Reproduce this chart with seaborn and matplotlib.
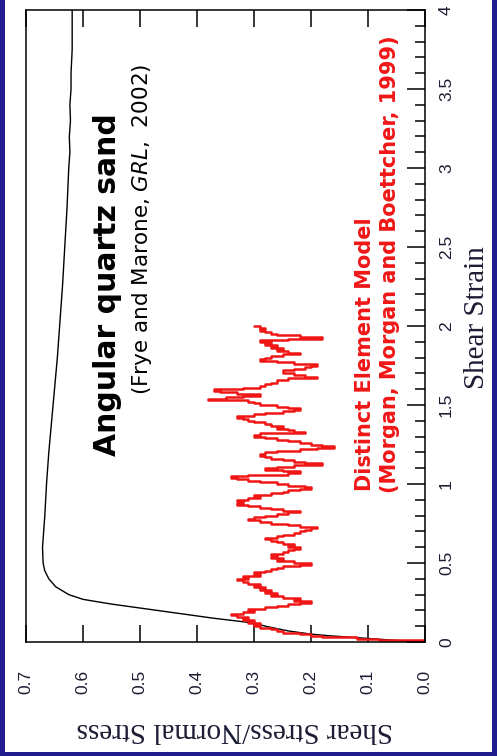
import matplotlib
matplotlib.use("Agg")
import matplotlib.pyplot as plt
from matplotlib.patches import Rectangle
from matplotlib.ticker import MultipleLocator
import numpy as np
import pandas as pd
import seaborn as sns

# Laboratory friction curve for angular quartz sand
sand_strain = [0.00, 0.01, 0.02, 0.03, 0.04, 0.05, 0.07, 0.10, 0.12, 0.15, 0.18,
               0.21, 0.24, 0.27, 0.30, 0.35, 0.40, 0.45, 0.50, 0.60, 0.70, 0.80,
               1.00, 1.20, 1.40, 1.60, 1.80, 2.00, 2.25, 2.50, 2.75, 3.00, 3.10,
               3.20, 3.30, 3.40, 3.50, 3.60, 3.75, 4.00]
sand_stress = [0.000, 0.050, 0.090, 0.130, 0.170, 0.200, 0.240, 0.280, 0.300, 0.370, 0.430,
               0.490, 0.550, 0.600, 0.625, 0.648, 0.660, 0.667, 0.670, 0.671, 0.669, 0.667,
               0.664, 0.660, 0.655, 0.650, 0.645, 0.641, 0.636, 0.632, 0.628, 0.625, 0.623,
               0.624, 0.622, 0.623, 0.621, 0.621, 0.619, 0.619]

# Distinct element model friction record, sampled every 0.01 of strain from 0 to 2
dem_strain = np.linspace(0.0, 2.0, 201)
dem_stress = [
    0.00, 0.08, 0.12, 0.18, 0.20, 0.22, 0.25, 0.26, 0.27, 0.29,
    0.30, 0.29, 0.31, 0.30, 0.32, 0.31, 0.33, 0.34, 0.32, 0.30,
    0.31, 0.28, 0.26, 0.24, 0.22, 0.20, 0.23, 0.22, 0.25, 0.27,
    0.26, 0.28, 0.27, 0.29, 0.28, 0.30, 0.29, 0.31, 0.32, 0.33,
    0.31, 0.32, 0.29, 0.30, 0.28, 0.27, 0.26, 0.25, 0.22, 0.20,
    0.23, 0.26, 0.25, 0.27, 0.26, 0.27, 0.25, 0.24, 0.23, 0.22,
    0.24, 0.23, 0.25, 0.26, 0.27, 0.28, 0.26, 0.25, 0.23, 0.22,
    0.21, 0.20, 0.19, 0.22, 0.24, 0.27, 0.29, 0.31, 0.30, 0.28,
    0.26, 0.24, 0.22, 0.25, 0.27, 0.29, 0.31, 0.33, 0.32, 0.33,
    0.31, 0.29, 0.30, 0.27, 0.25, 0.24, 0.22, 0.20, 0.21, 0.24,
    0.26, 0.29, 0.31, 0.33, 0.34, 0.31, 0.24, 0.22, 0.25, 0.28,
    0.26, 0.23, 0.18, 0.21, 0.23, 0.25, 0.27, 0.28, 0.29, 0.28,
    0.26, 0.22, 0.19, 0.16, 0.18, 0.20, 0.22, 0.24, 0.26, 0.28,
    0.30, 0.29, 0.21, 0.23, 0.24, 0.26, 0.25, 0.27, 0.28, 0.30,
    0.31, 0.32, 0.33, 0.30, 0.28, 0.25, 0.23, 0.22, 0.24, 0.26,
    0.29, 0.30, 0.31, 0.38, 0.35, 0.32, 0.29, 0.33, 0.36, 0.37,
    0.32, 0.29, 0.28, 0.27, 0.26, 0.26, 0.24, 0.19, 0.21, 0.23,
    0.25, 0.25, 0.23, 0.21, 0.20, 0.19, 0.23, 0.26, 0.29, 0.28,
    0.27, 0.25, 0.22, 0.24, 0.26, 0.25, 0.27, 0.26, 0.28, 0.27,
    0.29, 0.24, 0.18, 0.22, 0.26, 0.27, 0.28, 0.29, 0.28, 0.29,
    0.30,
]

stress_ticks = [0.0, 0.1, 0.2, 0.3, 0.4, 0.5, 0.6, 0.7]
strain_ticks = [0, 0.5, 1, 1.5, 2, 2.5, 3, 3.5, 4]
strain_labels = ["0", "0.5", "1", "1.5", "2", "2.5", "3", "3.5", "4"]

RED = "#f01616"
NAVY = "#211d8f"
TICKCOL = "#1c1c34"

sns.set_theme(style="white")
plt.rcParams["font.family"] = ["DejaVu Sans"]
plt.rcParams["axes.edgecolor"] = "black"
plt.rcParams["axes.linewidth"] = 1.1

fig = plt.figure(figsize=(4.97, 7.56), dpi=100)
fig.patch.set_facecolor("white")

# navy frame around the slide
for (x0, y0, w, h) in [(0, 0, 5 / 497, 1), (492 / 497, 0, 5 / 497, 1), (0, 0, 1, 4 / 756)]:
    fig.add_artist(Rectangle((x0, y0), w, h, transform=fig.transFigure,
                             facecolor=NAVY, edgecolor="none", zorder=10))

ax = fig.add_axes([26 / 497, 1 - 642 / 756, (425 - 26) / 497, (642 - 10) / 756])

sand = pd.DataFrame({"strain": sand_strain, "stress": sand_stress})
dem = pd.DataFrame({"strain": dem_strain, "stress": dem_stress})

sns.lineplot(data=sand, x="stress", y="strain", sort=False, estimator=None,
             color="black", lw=1.0, ax=ax)
sns.lineplot(data=dem, x="stress", y="strain", sort=False, estimator=None,
             color=RED, lw=1.8, drawstyle="steps-pre", ax=ax)

ax.set_xlim(0.7, 0.0)
ax.set_ylim(0, 4)
for s in ax.spines.values():
    s.set_visible(True)
    s.set_color("black")

# stress axis (horizontal, reversed), labels turned with the page
ax.set_xticks(stress_ticks)
ax.set_xticklabels([f"{v:.1f}" for v in stress_ticks], rotation=90,
                   fontfamily="Liberation Sans", fontsize=12.5, color=TICKCOL)
ax.tick_params(axis="x", which="major", direction="in", length=12.5, width=1.1,
               top=True, bottom=True, labeltop=False, labelbottom=True,
               pad=20, color="black")

# strain axis on the right
ax.yaxis.tick_right()
ax.set_yticks(strain_ticks)
ax.set_yticklabels(strain_labels, rotation=90, va="center",
                   fontfamily="Liberation Sans", fontsize=12.5, color=TICKCOL)
ax.yaxis.set_minor_locator(MultipleLocator(0.1))
ax.tick_params(axis="y", which="major", direction="in", length=13, width=1.1,
               left=False, right=True, labelleft=False, labelright=True,
               pad=10, color="black")
ax.tick_params(axis="y", which="minor", direction="in", length=7.5, width=1.1,
               left=False, right=True, color="black")

ax.yaxis.set_label_position("right")
ax.set_ylabel("Shear Strain", rotation=90, va="center", ha="center",
              fontfamily="Liberation Serif", fontsize=21, color=TICKCOL)
ax.yaxis.set_label_coords((477 - 26) / 399, (642 - 318) / 632)

ax.set_xlabel("Shear Stress/Normal Stress", rotation=180, va="center", ha="center",
              fontfamily="Liberation Serif", fontsize=21, color=TICKCOL)
ax.xaxis.set_label_coords((235 - 26) / 399, (642 - 730) / 632)

# annotations
ax.text((107 - 26) / 399, (642 - 456) / 632, "Angular quartz sand",
        transform=ax.transAxes, rotation=90, rotation_mode="anchor",
        ha="left", va="center", fontsize=21.5, fontweight="bold", color="black")
ax.text((142 - 26) / 399, (642 - 395) / 632, r"(Frye and Marone, $\it{GRL}$,  2002)",
        transform=ax.transAxes, rotation=90, rotation_mode="anchor",
        ha="left", va="center", fontsize=15.5, color="black")
ax.text((365 - 26) / 399, (642 - 491) / 632, "Distinct Element Model",
        transform=ax.transAxes, rotation=90, rotation_mode="anchor",
        ha="left", va="center", fontsize=15, fontweight="bold", color=RED)
ax.text((390 - 26) / 399, (642 - 493) / 632, "(Morgan, Morgan and Boettcher, 1999)",
        transform=ax.transAxes, rotation=90, rotation_mode="anchor",
        ha="left", va="center", fontsize=15, fontweight="bold", color=RED)

fig.savefig("out.png", dpi=100, facecolor="white")
